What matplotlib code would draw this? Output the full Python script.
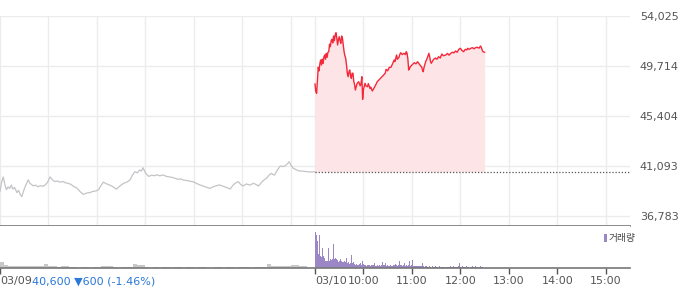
import numpy as np
import matplotlib
matplotlib.use('Agg')
import matplotlib.pyplot as plt

# 03/09 intraday (minutes from 09:00, price)
day1_min = [0, 2, 4, 6, 8, 10, 12, 14, 16, 18, 21, 23, 25, 27, 29, 31, 33, 35, 37, 39,
            41, 44, 47, 50, 53, 56, 59, 62, 65, 68, 71, 74, 78, 81, 84, 87, 91, 95, 99, 103,
            107, 111, 115, 119, 122, 125, 128, 132, 136, 140, 144, 148, 153, 157, 161, 164, 167, 170, 173, 175,
            177, 180, 184, 188, 191, 194, 198, 202, 206, 210, 215, 220, 224, 227, 231, 235, 239, 243, 248, 252,
            256, 260, 264, 268, 272, 276, 280, 285, 288, 291, 295, 298, 301, 305, 309, 314, 317, 320, 324, 327,
            330, 333, 336, 338, 340, 343, 347, 350, 353, 356, 358, 360, 363, 366, 369, 371, 375, 380, 385, 390]
day1_price = [38900, 39700, 40150, 39500, 39050, 39300, 39150, 39450, 39100, 39250, 38800, 39000, 38650, 38450, 38900, 39300, 39600, 39900, 39600, 39500,
              39380, 39450, 39300, 39400, 39350, 39460, 39700, 40150, 39900, 39750, 39800, 39700, 39760, 39650, 39600, 39540, 39350, 39200, 38900, 38650,
              38750, 38800, 38900, 38950, 39050, 39400, 39700, 39550, 39450, 39300, 39100, 39350, 39600, 39700, 39900, 40300, 40600, 40500, 40750, 40650,
              40950, 40500, 40200, 40300, 40250, 40330, 40250, 40320, 40200, 40150, 40080, 39950, 39980, 39880, 39850, 39780, 39740, 39600, 39450, 39350,
              39250, 39170, 39300, 39400, 39460, 39350, 39250, 39110, 39400, 39600, 39750, 39500, 39370, 39550, 39450, 39600, 39500, 39370, 39700, 39900,
              40030, 40300, 40460, 40350, 40320, 40700, 41090, 41050, 41100, 41300, 41460, 41200, 40900, 40800, 40700, 40660, 40650, 40600, 40580, 40600]

# 03/10 intraday
day2_min = [0, 1, 2, 3, 4, 5, 6, 7, 8, 9, 10, 11, 12, 13, 14, 15, 16, 17, 18, 19,
            20, 21, 22, 23, 24, 25, 26, 27, 28, 29, 30, 31, 32, 33, 34, 35, 36, 37, 38, 39,
            40, 41, 42, 43, 44, 45, 46, 47, 48, 49, 50, 52, 54, 56, 57, 58, 59, 60, 62, 63,
            65, 66, 68, 69, 71, 73, 74, 76, 77, 79, 81, 83, 85, 87, 88, 90, 92, 94, 96, 98,
            99, 101, 102, 104, 105, 106, 108, 110, 112, 113, 114, 115, 116, 117, 118, 120, 123, 125, 127, 129,
            131, 132, 133, 134, 135, 137, 139, 141, 142, 143, 144, 146, 147, 149, 151, 153, 155, 157, 159, 162,
            164, 166, 168, 170, 172, 174, 176, 178, 180, 182, 184, 186, 188, 189, 191, 193, 195, 197, 199, 201,
            203, 205, 206, 207, 208, 210]
day2_price = [48163, 47500, 47361, 48500, 49600, 49300, 49900, 50232, 49800, 50300, 49947, 50500, 50663, 50300, 50800, 50465, 50900, 50947, 51600, 51378,
              51900, 52016, 51700, 52300, 51896, 52400, 52585, 52100, 51525, 52000, 52240, 51900, 51671, 52300, 52103, 51500, 50947, 50600, 50378, 49800,
              49100, 48792, 49200, 49370, 48900, 48654, 49100, 49085, 48400, 48100, 47645, 48200, 48361, 48000, 48223, 48792, 46844, 47700, 48223, 48000,
              47930, 48200, 47792, 47900, 47559, 47800, 47930, 48200, 48361, 48500, 48654, 48800, 48939, 49100, 49430, 49300, 49600, 49602, 49900, 50232,
              50100, 50663, 50300, 50465, 50700, 50861, 50700, 50809, 50700, 50947, 50800, 50300, 49370, 49500, 49654, 49800, 49999, 49900, 50085, 49900,
              49700, 49654, 49400, 49223, 49600, 50085, 50400, 50809, 50500, 50100, 49947, 50200, 50292, 50400, 50300, 50516, 50400, 50749, 50600, 50663,
              50800, 50650, 50809, 50900, 50850, 51008, 50900, 51150, 51240, 51050, 50947, 51150, 51100, 51240, 51150, 51250, 51292, 51200, 51300, 51327,
              51250, 51439, 51300, 51094, 50950, 50896]

prev_close = 40600
y_ticks = [36783, 41093, 45404, 49714, 54025]

# volume, 03/09 in 5-minute bins, 03/10 per minute
vol_day1 = [60, 30, 20, 18, 22, 20, 15, 20, 22, 18, 20, 43, 15, 20, 12, 18, 15, 10,
            8, 0, 10, 8, 0, 12, 8, 20, 20, 15, 8, 0, 10, 8, 12, 43, 27, 27,
            8, 0, 10, 0, 8, 12, 0, 8, 10, 0, 10, 8, 0, 12, 8, 0, 0, 10, 8, 0, 8, 10, 0, 12, 10, 8, 0, 10, 8, 12,
            43, 20, 18, 20, 22, 20, 33, 33, 17, 17, 0, 0]
vol_day2 = [360, 330, 220, 270, 137, 327, 120, 113, 113, 203,
            120, 100, 70, 70, 70, 70, 203, 70, 70, 93,
            80, 90, 237, 113, 90, 103, 85, 80, 70, 60,
            70, 87, 70, 80, 60, 55, 70, 60, 103, 113,
            50, 60, 40, 47, 35, 127, 45, 60, 40, 47,
            30, 35, 27, 30, 25, 35, 47, 30, 70, 30,
            37, 25, 30, 22, 28, 20, 32, 25, 20, 30,
            22, 28, 25, 53, 20, 25, 22, 30, 20, 25,
            22, 20, 28, 60, 25, 22, 25, 47, 20, 25,
            22, 28, 20, 25, 22, 20, 137, 30, 25, 35,
            25, 30, 22, 25, 70, 25, 20, 25, 22, 25,
            47, 25, 20, 25, 22, 25, 70, 25, 20, 25,
            77, 22, 18, 24, 16, 18, 22, 15, 18, 16,
            18, 22, 16, 47, 16, 14, 18, 14, 16, 13,
            14, 16, 13, 14, 0, 16, 14, 13, 14, 16,
            13, 14, 0, 13, 16, 14, 13, 14, 16, 14,
            13, 0, 14, 16, 13, 14, 13, 16, 14, 13,
            14, 16, 13, 14, 0, 13, 14, 16, 47, 14,
            13, 14, 16, 13, 0, 14, 13, 16, 14, 13,
            14, 0, 13, 14, 16, 13, 14, 13, 16, 14,
            13, 14, 0, 13, 16, 14, 13, 14]

x_labels = ['03/09', '03/10', '10:00', '11:00', '12:00', '13:00', '14:00', '15:00']
x_label_pos = [0, 390, 450, 510, 570, 630, 690, 750]

DAY = 390
x2 = np.array(day2_min) + DAY

fig = plt.figure(figsize=(7, 2.89), dpi=100)
ax = fig.add_axes([0, 0.218, 0.9, 0.7266])
axv = fig.add_axes([0, 0.0727, 0.9, 0.1453])

grid_c = '#ececec'
for m in list(range(0, DAY, 60)) + list(range(DAY, 780, 60)):
    ax.axvline(m, color=grid_c, lw=1, zorder=0)
for t in y_ticks:
    ax.axhline(t, color=grid_c, lw=1, zorder=0)

ax.plot(day1_min, day1_price, color='#c4c4c8', lw=0.9)
ax.fill_between(x2, day2_price, prev_close, color='#fde4e6', lw=0, zorder=1)
ax.plot(x2, day2_price, color='#f5283a', lw=1.0, zorder=3)
ax.plot([DAY, 780], [prev_close, prev_close], color='#555555', lw=0.9, ls=(0, (1, 1.5)), zorder=2)

ax.set_xlim(0, 780)
ax.set_ylim(35921, 54025)
ax.set_yticks(y_ticks)
ax.set_yticklabels(['{:,}'.format(t) for t in y_ticks])
ax.yaxis.tick_right()
ax.tick_params(axis='y', length=0, pad=7, labelsize=8, labelcolor='#555555')
ax.set_xticks([])
for s in ['top', 'left', 'right']:
    ax.spines[s].set_visible(False)
ax.spines['bottom'].set_color('#777777')
ax.spines['bottom'].set_linewidth(1.2)

# volume
axv.bar(np.arange(len(vol_day1)) * 5, vol_day1, width=5, align='edge', color='#c8c8c8', lw=0)
axv.bar(np.arange(len(vol_day2)) + DAY, vol_day2, width=1, align='edge', color='#9b87c6', lw=0)
axv.set_xlim(0, 780)
axv.set_ylim(0, 420)
axv.set_yticks([])
for s in ['top', 'left', 'right']:
    axv.spines[s].set_visible(False)
axv.spines['bottom'].set_color('#777777')
axv.spines['bottom'].set_linewidth(1.2)
axv.set_xticks(x_label_pos)
axv.set_xticklabels(x_labels)
axv.tick_params(axis='x', length=4, width=1, color='#555555', pad=2, labelsize=8, labelcolor='#555555')
for lab in axv.get_xticklabels()[:2]:
    lab.set_ha('left')

fig.text(32 / 700, 1 - 282 / 289, '40,600 \u25bc600 (-1.46%)', color='#2a78d8', fontsize=8,
         va='center', ha='left')

# legend
fig.patches.append(plt.Rectangle((604 / 700, 1 - 242 / 289), 3 / 700, 8 / 289,
                                 transform=fig.transFigure, color='#9b87c6', lw=0))
fig.text(609 / 700, 1 - 238 / 289, '거래량', color='#444444', fontsize=7, va='center', ha='left',
         family=['Noto Sans CJK KR', 'DejaVu Sans'])

fig.savefig('out.png', dpi=100)
